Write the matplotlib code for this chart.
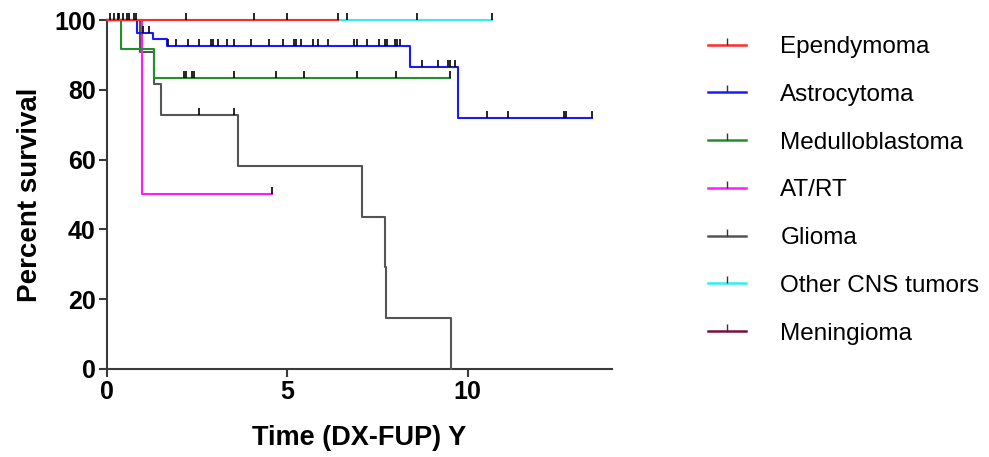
import numpy as np
import matplotlib
matplotlib.use("Agg")
import matplotlib.pyplot as plt

plt.rcParams['font.family'] = ['Liberation Sans', 'DejaVu Sans']

# Kaplan-Meier step curves (time in years, percent survival)
labels = ["Ependymoma", "Astrocytoma", "Medulloblastoma", "AT/RT",
          "Glioma", "Other CNS tumors", "Meningioma"]
colors = ["#ff2a2a", "#1a1aff", "#22902a", "#ff1aff",
          "#555555", "#33eeee", "#7a1040"]

epend_t = [0, 6.4]
epend_s = [100, 100]
epend_c = [0.1, 0.2, 0.3, 0.45, 0.55, 0.62, 0.75, 0.8, 2.19, 4.07, 5.0, 6.4]

astro_t = [0, 0.85, 1.28, 1.68, 8.39, 9.73, 13.43]
astro_s = [100, 96.4, 94.6, 92.6, 86.5, 72.0, 72.0]
astro_c = [1.01, 1.17, 1.70, 1.91, 2.25, 2.55, 2.88, 2.93, 3.08, 3.34, 3.53,
           3.99, 4.50, 4.89, 5.19, 5.25, 5.39, 5.72, 5.84, 6.13, 6.84, 6.92,
           7.22, 7.54, 7.70, 7.77, 7.98, 8.04, 8.12, 8.72, 9.18, 9.46, 9.50,
           9.64, 10.54, 11.12, 12.67, 12.71, 13.43]

medullo_t = [0, 0.38, 1.31, 9.50]
medullo_s = [100, 91.7, 83.3, 83.3]
medullo_c = [2.14, 2.19, 2.37, 2.41, 3.53, 4.68, 5.47, 6.94, 8.01, 9.50]

atrt_t = [0, 0.98, 4.58]
atrt_s = [100, 50, 50]
atrt_c = [4.58]

glioma_t = [0, 0.91, 1.31, 1.50, 3.64, 7.06, 7.71, 7.73, 9.53]
glioma_s = [100, 90.9, 81.8, 72.7, 58.2, 43.6, 29.1, 14.5, 0]
glioma_c = [2.55, 3.53]

other_t = [0, 10.68]
other_s = [100, 100]
other_c = [6.64, 8.58, 10.68]

mening_t = [0, 0.5]
mening_s = [100, 100]
mening_c = [0.35]

series = [(epend_t, epend_s, epend_c), (astro_t, astro_s, astro_c),
          (medullo_t, medullo_s, medullo_c), (atrt_t, atrt_s, atrt_c),
          (glioma_t, glioma_s, glioma_c), (other_t, other_s, other_c),
          (mening_t, mening_s, mening_c)]
zorders = [9, 8, 7, 6, 5, 3, 2]


def surv_at(t, s, x):
    idx = np.searchsorted(t, x, side='right') - 1
    return np.asarray(s)[idx]


fig = plt.figure(figsize=(9.89, 4.57), dpi=100)
ax = fig.add_axes([0.108, 0.193, 0.511, 0.763])

handles = []
for (t, s, c), col, lab, z in zip(series, colors, labels, zorders):
    ax.plot(t, s, drawstyle='steps-post', color=col, lw=1.5,
            zorder=z, clip_on=False)
    ax.plot(c, surv_at(t, s, c), ls='none', marker=2, ms=5, mew=1.2,
            color='black', zorder=z + 0.5, clip_on=False)
    h, = ax.plot([], [], color=col, lw=1.8, marker=2, ms=5, mew=1.0,
                 mec='#333333', label=lab)
    handles.append(h)

ax.set_xlim(0, 14)
ax.set_ylim(0, 100)
ax.set_xticks([0, 5, 10])
ax.set_yticks([0, 20, 40, 60, 80, 100])
for side in ['top', 'right']:
    ax.spines[side].set_visible(False)
for side in ['left', 'bottom']:
    ax.spines[side].set_linewidth(1.5)
    ax.spines[side].set_color('#3a3a3a')
ax.tick_params(direction='out', length=6, width=1.5, color='#3a3a3a',
               labelsize=18, pad=2)
for lbl in ax.get_xticklabels() + ax.get_yticklabels():
    lbl.set_fontweight('bold')

ax.set_xlabel("Time (DX-FUP) Y", fontsize=19.5, fontweight='bold', labelpad=15)
ax.set_ylabel("Percent survival", fontsize=20, fontweight='bold', labelpad=8)

fig.legend(handles=handles, loc='upper left', bbox_to_anchor=(0.716, 0.921),
           frameon=False, fontsize=17.5, handlelength=1.57, handletextpad=1.4,
           labelspacing=1.06, numpoints=1, borderpad=0, borderaxespad=0)

fig.savefig("out.png", dpi=100)
